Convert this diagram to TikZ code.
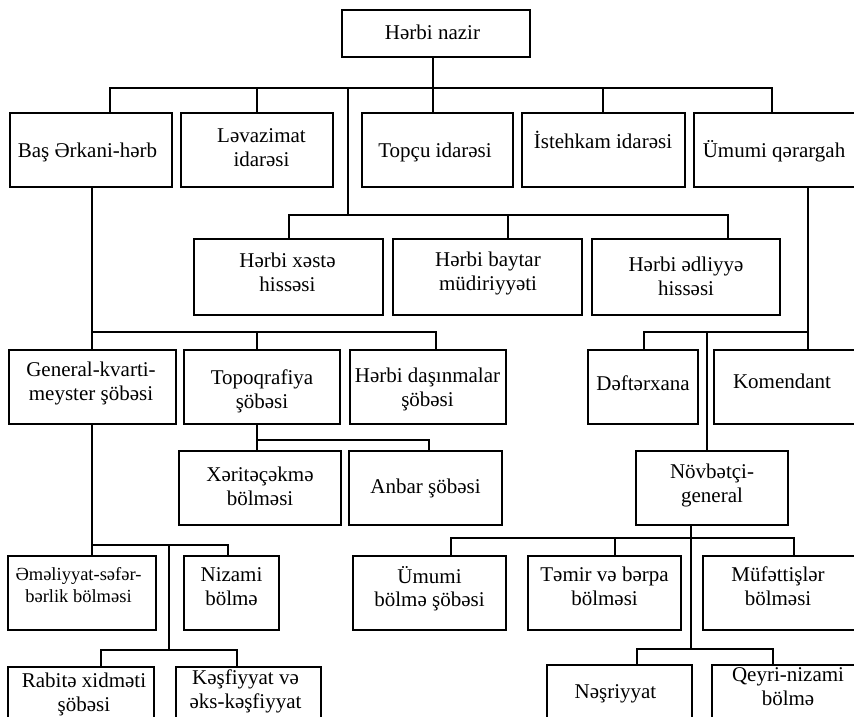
\documentclass[tikz,border=0pt]{standalone}
\usepackage{fontspec}
\setmainfont{Liberation Serif}
\tikzset{
  box/.style={draw, line width=1.4pt, rectangle, inner sep=0pt, outer sep=0pt},
  lbl/.style={inner sep=0pt, outer sep=0pt, align=center, font=\fontsize{21}{23.5}\selectfont},
  lblsmall/.style={inner sep=0pt, outer sep=0pt, align=center, font=\fontsize{18.5}{22}\selectfont},
  conn/.style={line width=1.3pt}
}
\newcommand\obox[5]{\node[box, minimum width={(#4)-(#2)}, minimum height={(#5)-(#3)}] (#1) at ({((#2)+(#4))/2},{((#3)+(#5))/2}) {};}
\newcommand\otext[5][lbl]{\node[#1] (#2) at (#3,#4) {#5};}
\begin{document}
\begin{tikzpicture}[x=1pt,y=-1pt]
\useasboundingbox (0,0) rectangle (854,717);
\clip (0,0) rectangle (854,717);
% boxes
\obox{nazir}{342}{10}{530}{57}
\obox{bas}{10}{113}{172}{187}
\obox{lev}{181}{113}{333}{187}
\obox{topcu}{362}{113}{513}{187}
\obox{ist}{522}{113}{685}{187}
\obox{umq}{694}{113}{860}{187}
\obox{xeste}{194}{239}{383}{315}
\obox{baytar}{393}{239}{582}{315}
\obox{edl}{592}{239}{780}{315}
\obox{general}{9}{350}{176}{424}
\obox{topo}{184}{350}{340}{424}
\obox{dasin}{350}{350}{506}{424}
\obox{defter}{588}{350}{698}{424}
\obox{kom}{714}{350}{860}{424}
\obox{xerit}{179}{451}{341}{525}
\obox{anbar}{349}{451}{502}{525}
\obox{novb}{636}{451}{788}{525}
\obox{emel}{8}{556}{156}{630}
\obox{nizami}{184}{556}{279}{630}
\obox{umb}{353}{556}{506}{630}
\obox{temir}{528}{556}{681}{630}
\obox{muf}{703}{556}{860}{630}
\obox{rabite}{8}{667}{154}{745}
\obox{kesf}{176}{667}{321}{745}
\obox{nesr}{547}{665}{692}{745}
\obox{qeyri}{712}{665}{860}{745}
% texts
\otext{nazir-t}{432.5}{35.3}{\strut Hərbi nazir}
\otext{bas-t}{87.5}{152.3}{\strut Baş Ərkani-hərb}
\otext{lev-t}{261.5}{150}{\strut Ləvazimat\\\strut idarəsi}
\otext{topcu-t}{435}{152.3}{\strut Topçu idarəsi}
\otext{ist-t}{603}{143.3}{\strut İstehkam idarəsi}
\otext{umq-t}{774}{152.3}{\strut Ümumi qərargah}
\otext{xeste-t}{287.5}{275}{\strut Hərbi xəstə\\\strut hissəsi}
\otext{baytar-t}{488}{274}{\strut Hərbi baytar\\\strut müdiriyyəti}
\otext{edl-t}{686}{279}{\strut Hərbi ədliyyə\\\strut hissəsi}
\otext{general-t}{91}{384}{\strut General-kvarti-\\\strut meyster şöbəsi}
\otext{topo-t}{262}{392}{\strut Topoqrafiya\\\strut şöbəsi}
\otext{dasin-t}{427.5}{390}{\strut Hərbi daşınmalar\\\strut şöbəsi}
\otext{defter-t}{643}{385.3}{\strut Dəftərxana}
\otext{kom-t}{782}{383.3}{\strut Komendant}
\otext{xerit-t}{260}{489}{\strut Xəritəçəkmə\\\strut bölməsi}
\otext{anbar-t}{425.5}{488.3}{\strut Anbar şöbəsi}
\otext{novb-t}{712}{486}{\strut Növbətçi-\\\strut general}
\otext[lblsmall]{emel-t}{78.5}{586.6}{\strut Əməliyyat-səfər-\\\strut bərlik bölməsi}
\otext{nizami-t}{231.5}{589}{\strut Nizami\\\strut bölmə}
\otext{umb-t}{429.5}{590}{\strut Ümumi\\\strut bölmə şöbəsi}
\otext{temir-t}{604.5}{589}{\strut Təmir və bərpa\\\strut bölməsi}
\otext{muf-t}{778}{589}{\strut Müfəttişlər\\\strut bölməsi}
\otext{rabite-t}{84}{695}{\strut Rabitə xidməti\\\strut şöbəsi}
\otext{kesf-t}{245.5}{692}{\strut Kəşfiyyat və\\\strut əks-kəşfiyyat}
\otext{nesr-t}{615.5}{693.3}{\strut Nəşriyyat}
\otext{qeyri-t}{788}{689}{\strut Qeyri-nizami\\\strut bölmə}
% junction coordinates
\coordinate (tb1) at (110,88);
\coordinate (tb2) at (257,88);
\coordinate (tb3) at (433,88);
\coordinate (tb4) at (603,88);
\coordinate (tb5) at (772,88);
\coordinate (tb6) at (348,88);
\coordinate (sb1) at (289,215);
\coordinate (sb2) at (508,215);
\coordinate (sb3) at (728,215);
\coordinate (gb1) at (92,332);
\coordinate (gb2) at (257,332);
\coordinate (gb3) at (436,332);
\coordinate (kb1) at (644,332);
\coordinate (kb2) at (707,332);
\coordinate (kb3) at (808,332);
\coordinate (xb1) at (257,440);
\coordinate (xb2) at (429,440);
\coordinate (eb1) at (92,545);
\coordinate (eb2) at (169,545);
\coordinate (eb3) at (228,545);
\coordinate (rb1) at (101,650);
\coordinate (rb2) at (169,650);
\coordinate (rb3) at (237,650);
\coordinate (nb1) at (451,538);
\coordinate (nb2) at (615,538);
\coordinate (nb3) at (691,538);
\coordinate (nb4) at (794,538);
\coordinate (qb1) at (637,649);
\coordinate (qb2) at (691,649);
\coordinate (qb3) at (773,649);
% connectors
\begin{scope}[conn]
\draw (tb1 |- bas.north) -- (tb1) -- (tb5) -- (tb5 |- umq.north);
\draw (tb2) -- (tb2 |- lev.north);
\draw (tb3 |- nazir.south) -- (tb3 |- topcu.north);
\draw (tb4) -- (tb4 |- ist.north);
\draw (tb6) -- (tb6 |- sb1);
\draw (sb1 |- xeste.north) -- (sb1) -- (sb3) -- (sb3 |- edl.north);
\draw (sb2) -- (sb2 |- baytar.north);
\draw (gb1 |- bas.south) -- (gb1 |- general.north);
\draw (gb1) -- (gb3) -- (gb3 |- dasin.north);
\draw (gb2) -- (gb2 |- topo.north);
\draw (kb3 |- umq.south) -- (kb3 |- kom.north);
\draw (kb3) -- (kb1) -- (kb1 |- defter.north);
\draw (kb2) -- (kb2 |- novb.north);
\draw (xb1 |- topo.south) -- (xb1 |- xerit.north);
\draw (xb1) -- (xb2) -- (xb2 |- anbar.north);
\draw (eb1 |- general.south) -- (eb1 |- emel.north);
\draw (eb1) -- (eb3) -- (eb3 |- nizami.north);
\draw (eb2) -- (rb2);
\draw (rb1 |- rabite.north) -- (rb1) -- (rb3) -- (rb3 |- kesf.north);
\draw (nb3 |- novb.south) -- (qb2);
\draw (nb1 |- umb.north) -- (nb1) -- (nb4) -- (nb4 |- muf.north);
\draw (nb2) -- (nb2 |- temir.north);
\draw (qb1 |- nesr.north) -- (qb1) -- (qb3) -- (qb3 |- qeyri.north);
\end{scope}
\end{tikzpicture}
\end{document}
